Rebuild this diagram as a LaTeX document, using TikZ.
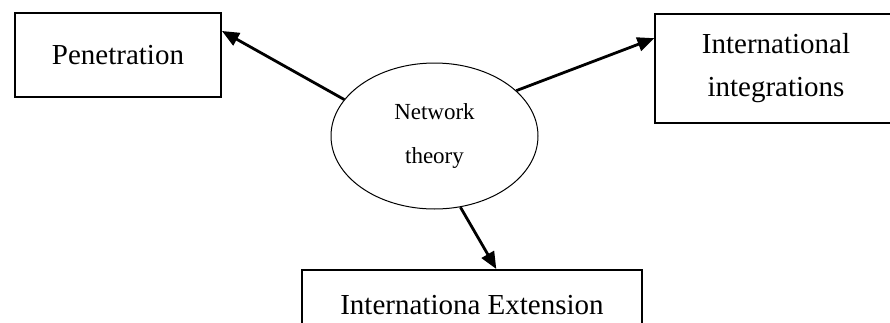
\documentclass[tikz,border=0pt]{standalone}
\usepackage{fontspec}
\setmainfont{Liberation Serif}
\usepackage{tikz}
\usetikzlibrary{arrows.meta, shapes.geometric}
\tikzset{
  box/.style={draw=black, line width=1pt, align=center, inner sep=0pt,
              font=\fontsize{14.5}{21.5}\selectfont},
  thinbox/.style={box, line width=0.6pt},
  ellip/.style={draw=black, ellipse, line width=0.5pt, inner sep=0pt,
                align=center, font=\fontsize{11.5}{21.5}\selectfont},
  flow/.style={-{Triangle[length=8.5pt, width=7pt]}, line width=1.4pt, draw=black},
}
\begin{document}
\begin{tikzpicture}[x=0.5pt, y=-0.5pt]
  \useasboundingbox (0,0) rectangle (890,322);
  \clip (0,0) rectangle (890,322);
  \node[ellip, minimum width=103.5pt, minimum height=73pt] (net) at (434.5,136)
    {Network\\ theory};
  \node[box, minimum width=103pt, minimum height=42pt] (pen) at (118,55) {Penetration};
  \node[thinbox, minimum width=121pt, minimum height=54.5pt] (integ) at (776,68.5)
    {International\\ integrations};
  \node[box, minimum width=170pt, minimum height=35pt] (ext) at (472,305)
    {Internationa Extension};

  \draw[flow] (net.158) -- (pen.13);
  \draw[flow] (net.29) -- (integ.166);
  \draw[flow] (net.290) -- (ext.56);
\end{tikzpicture}
\end{document}
